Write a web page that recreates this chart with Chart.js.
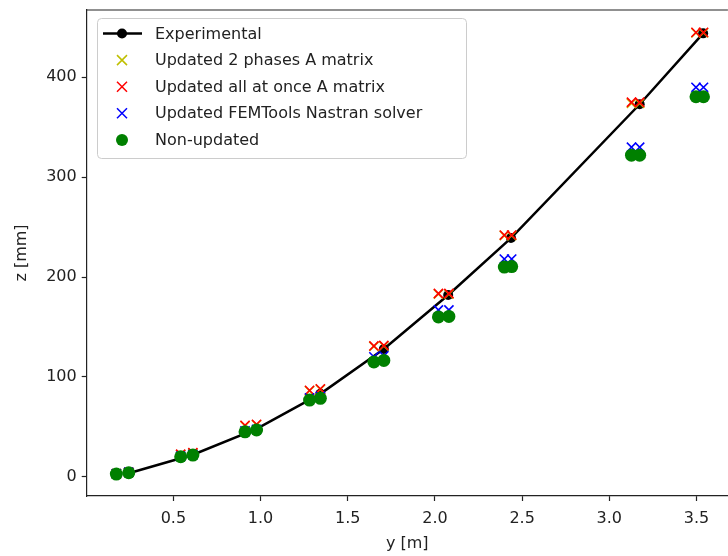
<!DOCTYPE html>
<html>
<head>
<meta charset="UTF-8">
<title>z vs y</title>
<style>
  html, body { margin: 0; padding: 0; background: #fff; overflow: hidden; }
  .wrap { width: 728px; height: 556px; overflow: hidden; }
  canvas { display: block; }
</style>
<script src="https://cdn.jsdelivr.net/npm/chart.js"></script>
</head>
<body>
<div class="wrap"><canvas id="chart" width="736" height="556"></canvas></div>
<script>
// experimental deflection line
const expY = [0.244, 0.612, 0.977, 1.343, 1.707, 2.076, 2.436, 3.174, 3.538];
const expZ = [3.5, 22, 48, 83, 128, 182, 239, 373, 444];

// model results, two stations per level
const modelY = [0.173, 0.244, 0.542, 0.612, 0.911, 0.977, 1.281, 1.343, 1.650, 1.707,
                2.020, 2.080, 2.398, 2.440, 3.127, 3.174, 3.497, 3.540];
const twoPhaseZ = [3, 4.5, 22, 23.5, 51, 52, 86, 87.5, 130.5, 131, 183, 183, 241.5, 241.5, 374, 374, 444.5, 444.5];
const allAtOnceZ = [3, 4.5, 22.5, 24, 51.5, 52.5, 86.5, 88, 131, 131.5, 183.5, 183.5, 242, 242, 375, 375, 445, 445];
const femtoolsZ = [3, 4.5, 20.5, 22, 46, 47.5, 79, 80.5, 120, 121, 167, 167, 218, 218, 330, 330, 390, 390];
const nonUpdatedZ = [2.7, 4, 20, 21.7, 45, 46.8, 76.8, 78.5, 115, 116.5, 160, 160.5, 210, 210.5, 322, 322, 380.5, 380.5];

const xTicks = [0.5, 1.0, 1.5, 2.0, 2.5, 3.0, 3.5];
const zTicks = [0, 100, 200, 300, 400];

const pts = (xs, zs) => xs.map((x, i) => ({ x: x, y: zs[i] }));
const FONT = 'DejaVu Sans';
const INK = '#222';

const legendItems = [
  { label: 'Experimental', kind: 'line' },
  { label: 'Updated 2 phases A matrix', kind: 'x', color: '#bfbf00' },
  { label: 'Updated all at once A matrix', kind: 'x', color: '#ff0000' },
  { label: 'Updated FEMTools Nastran solver', kind: 'x', color: '#0000ff' },
  { label: 'Non-updated', kind: 'dot', color: '#008000' }
];

// top frame line + legend box inside the axes
const framePlugin = {
  id: 'frame',
  afterDraw(chart) {
    const { ctx, chartArea: a } = chart;
    ctx.save();
    ctx.strokeStyle = INK;
    ctx.lineWidth = 1.2;
    ctx.beginPath();
    ctx.moveTo(a.left, a.top);
    ctx.lineTo(a.right, a.top);
    ctx.stroke();

    // legend
    const bx = 97, by = 18, bw = 369, bh = 140;
    ctx.fillStyle = 'rgba(255,255,255,0.85)';
    ctx.strokeStyle = '#cccccc';
    ctx.lineWidth = 1;
    ctx.beginPath();
    ctx.roundRect(bx + 0.5, by + 0.5, bw, bh, 4);
    ctx.fill();
    ctx.stroke();

    ctx.font = '16px "' + FONT + '"';
    ctx.textBaseline = 'middle';
    legendItems.forEach((it, i) => {
      const cy = 33.5 + i * 26.6;
      const cx = 122;
      if (it.kind === 'line') {
        ctx.strokeStyle = '#000';
        ctx.lineWidth = 2.5;
        ctx.beginPath();
        ctx.moveTo(103, cy);
        ctx.lineTo(142, cy);
        ctx.stroke();
        ctx.fillStyle = '#000';
        ctx.beginPath();
        ctx.arc(cx, cy, 5, 0, Math.PI * 2);
        ctx.fill();
      } else if (it.kind === 'x') {
        ctx.strokeStyle = it.color;
        ctx.lineWidth = 1.5;
        ctx.beginPath();
        ctx.moveTo(cx - 5, cy - 5); ctx.lineTo(cx + 5, cy + 5);
        ctx.moveTo(cx - 5, cy + 5); ctx.lineTo(cx + 5, cy - 5);
        ctx.stroke();
      } else {
        ctx.fillStyle = it.color;
        ctx.beginPath();
        ctx.arc(cx, cy, 6, 0, Math.PI * 2);
        ctx.fill();
      }
      ctx.fillStyle = INK;
      ctx.fillText(it.label, 155, cy + 1);
    });
    ctx.restore();
  }
};

const crossSet = (label, zs, color, order) => ({
  label: label,
  type: 'scatter',
  data: pts(modelY, zs),
  pointStyle: 'crossRot',
  pointRadius: 6.5,
  pointHoverRadius: 6.5,
  borderColor: color,
  backgroundColor: color,
  pointBorderWidth: 1.6,
  order: order
});

new Chart(document.getElementById('chart'), {
  type: 'scatter',
  data: {
    datasets: [
      {
        label: 'Experimental',
        type: 'line',
        data: pts(expY, expZ),
        borderColor: '#000',
        backgroundColor: '#000',
        borderWidth: 2.5,
        pointRadius: 5,
        pointHoverRadius: 5,
        pointBorderWidth: 0,
        tension: 0,
        fill: false,
        order: 5
      },
      crossSet('Updated 2 phases A matrix', twoPhaseZ, '#bfbf00', 4),
      crossSet('Updated all at once A matrix', allAtOnceZ, '#ff0000', 3),
      crossSet('Updated FEMTools Nastran solver', femtoolsZ, '#0000ff', 2),
      {
        label: 'Non-updated',
        type: 'scatter',
        data: pts(modelY, nonUpdatedZ),
        pointStyle: 'circle',
        pointRadius: 6.5,
        pointHoverRadius: 6.5,
        pointBorderWidth: 0,
        backgroundColor: '#008000',
        borderColor: '#008000',
        order: 1
      }
    ]
  },
  options: {
    responsive: false,
    animation: false,
    layout: { padding: { top: 10, right: 2, left: 0, bottom: 0 } },
    plugins: { legend: { display: false }, tooltip: { enabled: false } },
    scales: {
      x: {
        type: 'linear',
        min: 0.003,
        max: 3.68,
        afterBuildTicks: s => { s.ticks = xTicks.map(v => ({ value: v })); },
        afterFit: s => { s.height = 60; s.paddingLeft = 0; s.paddingRight = 0; },
        grid: { drawOnChartArea: false, tickLength: 5, tickColor: INK, tickWidth: 1.2 },
        border: { display: true, color: INK, width: 1.2 },
        ticks: {
          color: INK, padding: 8, maxRotation: 0,
          font: { family: FONT, size: 16 },
          callback: v => Number(v).toFixed(1)
        },
        title: {
          display: true, text: 'y [m]', color: INK,
          font: { family: FONT, size: 16 }, padding: { top: 0, bottom: 3 }
        }
      },
      y: {
        type: 'linear',
        min: -19.3,
        max: 467.4,
        afterBuildTicks: s => { s.ticks = zTicks.map(v => ({ value: v })); },
        afterFit: s => { s.width = 86.7; s.paddingTop = 0; s.paddingBottom = 0; },
        grid: { drawOnChartArea: false, tickLength: 5, tickColor: INK, tickWidth: 1.2 },
        border: { display: true, color: INK, width: 1.2 },
        ticks: {
          color: INK, padding: 5,
          font: { family: FONT, size: 16 },
          callback: v => String(v)
        },
        title: {
          display: true, text: 'z [mm]', color: INK,
          font: { family: FONT, size: 16 }, padding: { top: 12, bottom: 0 }
        }
      }
    }
  },
  plugins: [framePlugin]
});
</script>
</body>
</html>
